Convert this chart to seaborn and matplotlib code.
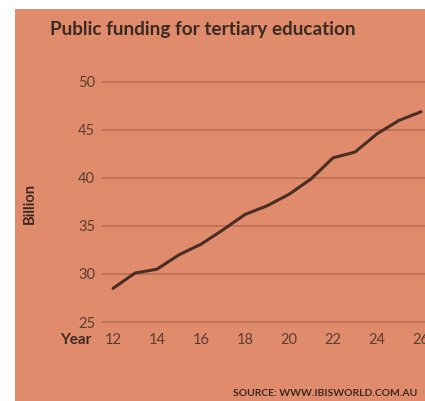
import matplotlib
matplotlib.use("Agg")
import matplotlib.pyplot as plt
import seaborn as sns
import pandas as pd
from matplotlib.patches import Rectangle

years = [12, 13, 14, 15, 16, 17, 18, 19, 20, 21, 22, 23, 24, 25, 26]
funding = [28.5, 30.1, 30.5, 32.0, 33.1, 34.6, 36.2, 37.1, 38.3, 39.9, 42.1, 42.7, 44.6, 46.0, 46.9]
y_ticks = [25, 30, 35, 40, 45, 50]
x_ticks = [12, 14, 16, 18, 20, 22, 24, 26]

sns.set_theme(style="white")
plt.rcParams['font.family'] = ['Lato', 'DejaVu Sans']

BG = "#E08B6B"
TXT = "#3b2a22"
GRID = "#B96F52"
LINE = "#4a2e24"

W, H = 425, 401
fig = plt.figure(figsize=(W / 100, H / 100), dpi=100)
fig.patch.set_facecolor("white")
fig.patches.append(Rectangle((15 / W, 0), 1 - 15 / W, 1 - 9 / H, transform=fig.transFigure,
                             facecolor=BG, edgecolor="none", zorder=-10))

ax = fig.add_axes([102 / W, 1 - 322 / H, 1 - 102 / W, 240 / H])
ax.set_facecolor("none")

df = pd.DataFrame({"year": years, "funding": funding})
sns.lineplot(data=df, x="year", y="funding", ax=ax, color=LINE, linewidth=2.2, clip_on=False)

ax.set_xlim(12 - 11 / 22, 12 + (W - 113) / 22)
ax.set_ylim(25, 50)
ax.set_yticks(y_ticks)
ax.set_xticks(x_ticks)
ax.set_xticklabels([str(v) for v in x_ticks])
ax.set_yticklabels([str(v) for v in y_ticks])
for v in y_ticks:
    ax.axhline(v, color=GRID, linewidth=1.2, zorder=0, clip_on=False)
for s in ax.spines.values():
    s.set_visible(False)
ax.tick_params(axis="both", length=0, labelsize=10.5, colors="#5a3e32")
ax.tick_params(axis="y", pad=5)
ax.tick_params(axis="x", pad=8)
ax.set_xlabel("")
ax.set_ylabel("")

fig.text(50 / W, 1 - 30 / H, "Public funding for tertiary education", fontsize=13.6,
         fontweight="bold", color=TXT, va="center", ha="left")
fig.text(30 / W, 1 - 203 / H, "Billion", fontsize=10.5, fontweight="bold", color=TXT,
         rotation=90, va="center", ha="center")
fig.text(91 / W, 1 - 340 / H, "Year", fontsize=11, fontweight="bold", color=TXT,
         va="center", ha="right")
fig.text(233 / W, 1 - 394 / H, "SOURCE: WWW.IBISWORLD.COM.AU", fontsize=7.5,
         fontweight="bold", color=TXT, va="center", ha="left")

fig.savefig("out.png", dpi=100)
